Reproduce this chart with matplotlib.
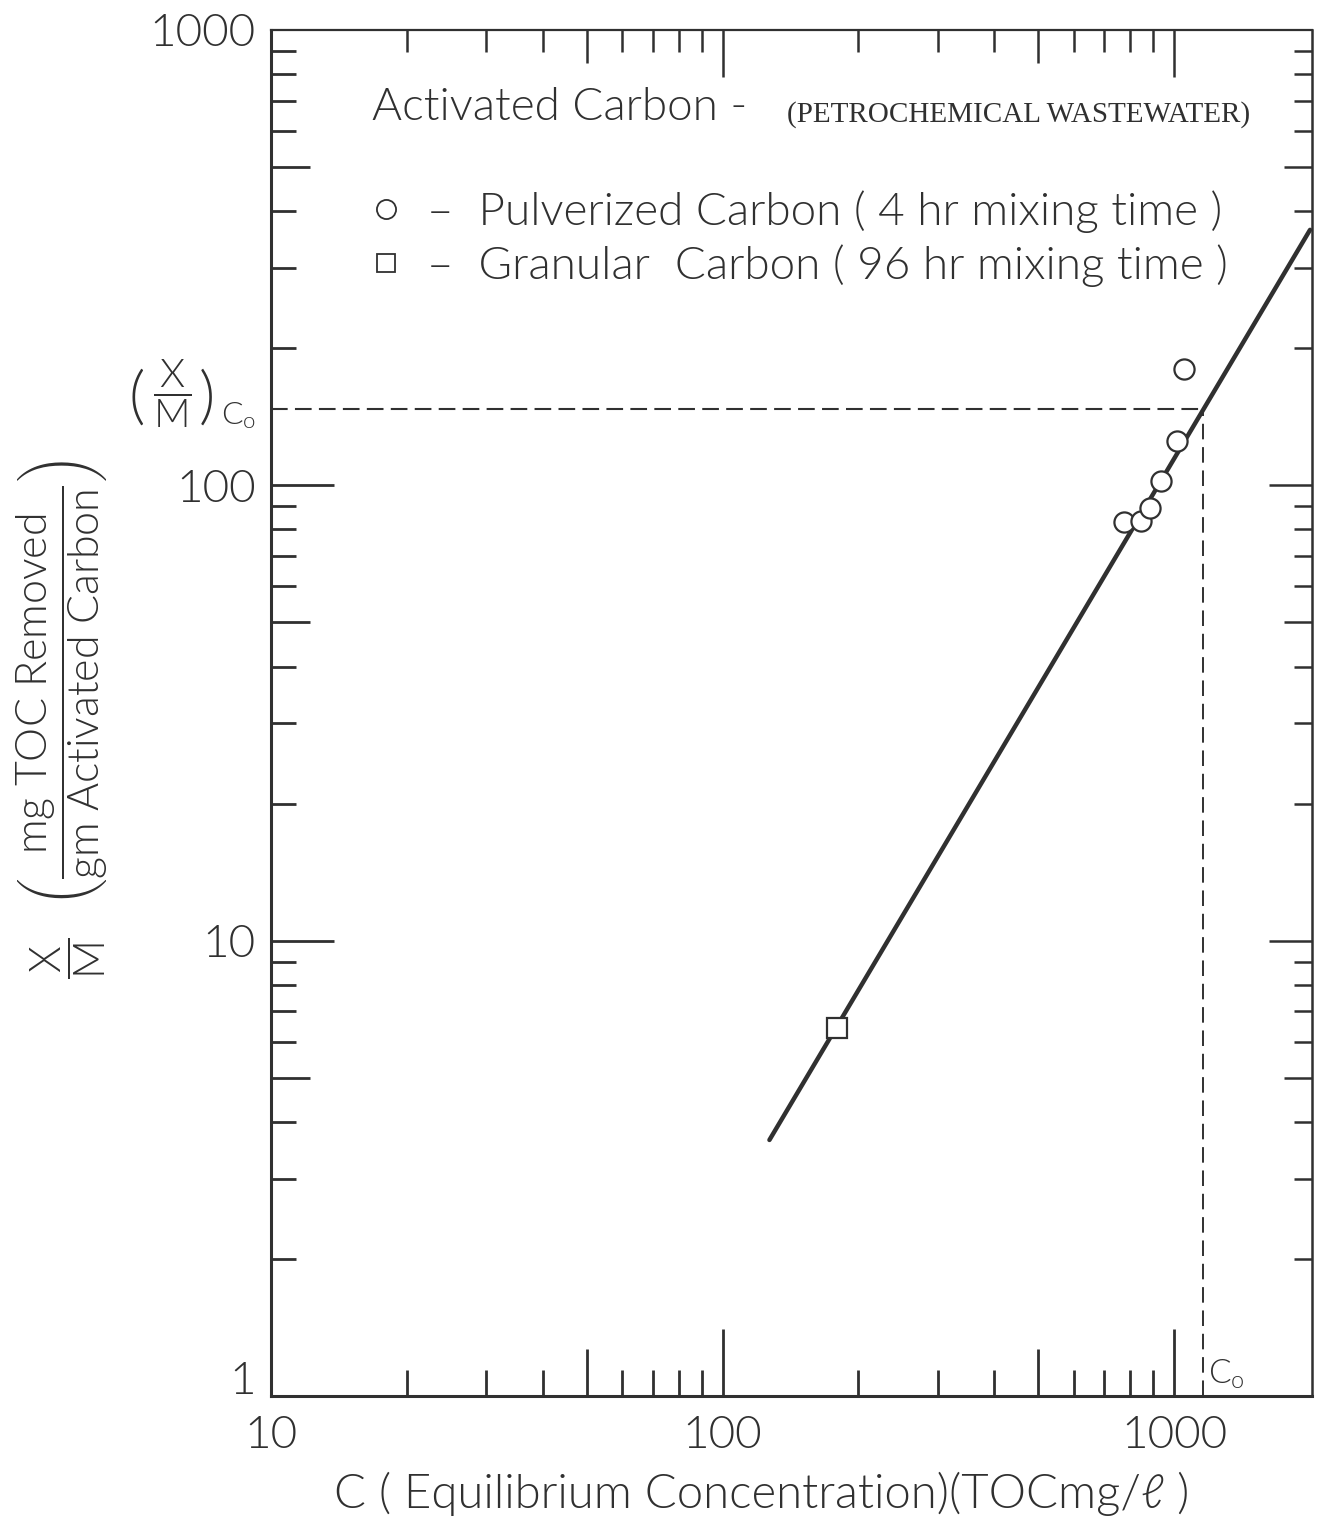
import numpy as np
import matplotlib
matplotlib.use("Agg")
import matplotlib.pyplot as plt
import matplotlib.transforms as mtransforms

# Pulverized carbon, 4 hr mixing time
pulverized_C = [776, 846, 885, 936, 1015, 1053]
pulverized_XM = [83.2, 83.5, 89.2, 102, 125, 180]
# Granular carbon, 96 hr mixing time
granular_C = [179]
granular_XM = [6.43]
# Fitted Freundlich isotherm (end points)
isotherm_C = [127, 2000]
isotherm_XM = [3.65, 364]
C0 = 1160
XM_C0 = 147

x_ticks = [10, 100, 1000]
x_ticklabels = ["10", "100", "1000"]
y_ticks = [1, 10, 100, 1000]
y_ticklabels = ["1", "10", "100", "1000"]
x_limits = (10, 2020)
y_limits = (1, 1000)

INK = "#303030"
LIGHT = 300

plt.rcParams["font.family"] = ["Lato", "DejaVu Sans"]
plt.rcParams["font.weight"] = LIGHT
plt.rcParams["mathtext.fontset"] = "custom"
plt.rcParams["mathtext.rm"] = "Lato:weight=300"
plt.rcParams["mathtext.it"] = "Lato:italic:weight=300"
plt.rcParams["mathtext.bf"] = "Lato:bold"
plt.rcParams["mathtext.sf"] = "Lato:weight=300"
plt.rcParams["mathtext.default"] = "rm"
plt.rcParams["text.color"] = INK

W, H = 1321, 1519
fig = plt.figure(figsize=(W / 100, H / 100), dpi=100)
fig.patch.set_facecolor("white")

left_px, right_px, top_px, bottom_px = 271, 1312, 30, 1396
ax = fig.add_axes([left_px / W, 1 - bottom_px / H,
                   (right_px - left_px) / W, (bottom_px - top_px) / H])
ax.set_xscale("log")
ax.set_yscale("log")
ax.set_xlim(*x_limits)
ax.set_ylim(*y_limits)

for side, lw in (("left", 2.2), ("bottom", 2.2), ("top", 1.6), ("right", 1.8)):
    ax.spines[side].set_linewidth(lw)
    ax.spines[side].set_color(INK)

# Tick labels only; the tick marks themselves are drawn below with
# three lengths (decade, five, other).
ax.set_xticks(x_ticks)
ax.set_xticklabels(x_ticklabels)
ax.set_yticks(y_ticks)
ax.set_yticklabels(y_ticklabels)
ax.minorticks_off()
ax.tick_params(axis="both", which="both", length=0, labelsize=33, colors=INK)
ax.tick_params(axis="x", pad=14)
ax.tick_params(axis="y", pad=11)
# the "1" sits a little above the corner
one_label = ax.get_yticklabels()[0]
one_label.set_transform(one_label.get_transform() +
                        mtransforms.ScaledTranslation(0, 18 / 100, fig.dpi_scale_trans))


def tick_values(lo, hi):
    vals = []
    dec = 10 ** int(np.floor(np.log10(lo)))
    while dec <= hi:
        for m in range(1, 10):
            v = m * dec
            if lo < v < hi:
                vals.append(v)
        dec *= 10
    return vals


def tick_len(v, lengths):
    m = round(v / 10 ** np.floor(np.log10(v) + 1e-9))
    if m == 1:
        return lengths[0]
    if m == 5:
        return lengths[1]
    return lengths[2]


# lengths in points: (decade, five, other)
bottom_len = (48, 34, 19)
top_len = (34, 24, 16)
left_len = (45, 28, 18)
right_len = (31, 20, 13)

for v in tick_values(x_limits[0], 1500):
    ax.plot([v], [y_limits[0]], marker=2, ms=tick_len(v, bottom_len),
            mew=2.0, color=INK, clip_on=False, zorder=5)
    ax.plot([v], [y_limits[1]], marker=3, ms=tick_len(v, top_len),
            mew=1.8, color=INK, clip_on=False, zorder=5)
for v in tick_values(y_limits[0], y_limits[1]):
    ax.plot([x_limits[0]], [v], marker=1, ms=tick_len(v, left_len),
            mew=2.0, color=INK, clip_on=False, zorder=5)
    ax.plot([x_limits[1]], [v], marker=0, ms=tick_len(v, right_len),
            mew=1.8, color=INK, clip_on=False, zorder=5)

# Isotherm and the read-off at the initial concentration
ax.plot(isotherm_C, isotherm_XM, color=INK, lw=3.2, solid_capstyle="round",
        zorder=3)
ax.plot([x_limits[0], C0], [XM_C0, XM_C0], color=INK, lw=1.5,
        dashes=(8, 3.5), zorder=2)
ax.plot([C0, C0], [y_limits[0], XM_C0], color=INK, lw=1.4,
        dashes=(8, 4), zorder=2)

h_pulv, = ax.plot(pulverized_C, pulverized_XM, linestyle="none", marker="o",
                  ms=14.5, mew=1.6, mfc="white", mec=INK, zorder=4)
h_gran, = ax.plot(granular_C, granular_XM, linestyle="none", marker="s",
                  ms=14, mew=1.6, mfc="white", mec=INK, zorder=4)

leg = ax.legend([h_pulv, h_gran],
                ["–  Pulverized Carbon ( 4 hr mixing time )",
                 "–  Granular  Carbon ( 96 hr mixing time )"],
                loc="upper left", bbox_to_anchor=(372 / W, 1 - 190 / H),
                bbox_transform=fig.transFigure, frameon=False, fontsize=33,
                handlelength=0.6, handletextpad=0.6, labelspacing=0.25,
                borderpad=0, borderaxespad=0, markerscale=0.95)
for t in leg.get_texts():
    t.set_color(INK)
for lh in leg.legend_handles:
    lh.set_markeredgewidth(1.3)

fig.text(372 / W, 1 - 120 / H, "Activated Carbon -", fontsize=33,
         ha="left", va="baseline")
fig.text(787 / W, 1 - 122 / H, "(PETROCHEMICAL WASTEWATER)",
         family="Liberation Serif", fontweight="normal", fontsize=21,
         ha="left", va="baseline")

# (X/M)Co beside the dashed read-off line
fig.text(137 / W, 1 - 399 / H, "(", fontsize=46, ha="center", va="center")
fig.text(172 / W, 1 - 394 / H, r"$\dfrac{X}{M}$", fontsize=29,
         ha="center", va="center")
fig.text(207 / W, 1 - 399 / H, ")", fontsize=46, ha="center", va="center")
fig.text(221 / W, 1 - 424 / H, r"C$_{\mathrm{o}}$", fontsize=23,
         ha="left", va="baseline")

fig.text(1208 / W, 1 - 1384 / H, r"C$_{\mathrm{o}}$", fontsize=24,
         ha="left", va="baseline")

fig.text(762 / W, 1 - 1494 / H, "C ( Equilibrium Concentration)(TOCmg/ℓ )",
         fontsize=34, ha="center", va="center")

# Y axis title: X/M followed by the bracketed unit fraction
fig.text(68 / W, 1 - 958 / H, r"$\dfrac{X}{M}$", fontsize=31,
         rotation=90, ha="center", va="center")
fig.text(62 / W, 1 - 683 / H,
         r"$\left(\dfrac{mg\ TOC\ Removed}{gm\ Activated\ Carbon}\right)$",
         fontsize=31, rotation=90, ha="center", va="center")

fig.savefig("out.png", dpi=100, facecolor="white")
